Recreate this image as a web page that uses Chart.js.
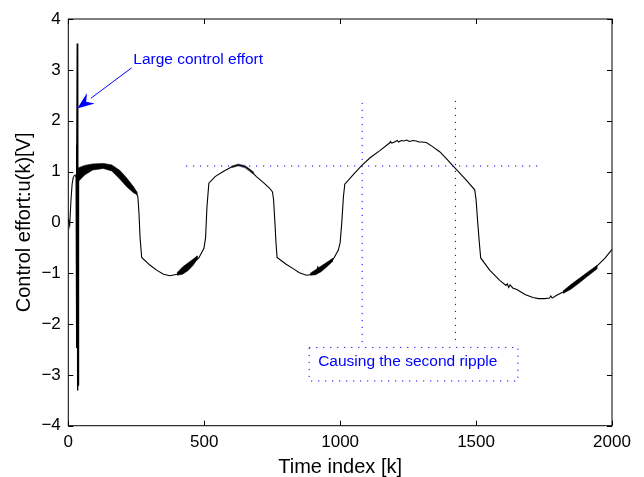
<!DOCTYPE html>
<html><head><meta charset="utf-8">
<script src="https://cdn.jsdelivr.net/npm/chart.js@4.4.1/dist/chart.umd.min.js"></script>
<style>html,body{margin:0;padding:0;background:#fff}canvas{display:block}</style>
</head><body>
<canvas id="c" width="644" height="477"></canvas>
<script>
// ---- axis ticks ----
const xTicks = [0, 500, 1000, 1500, 2000];
const yTicks = [-4, -3, -2, -1, 0, 1, 2, 3, 4];

// ---- main control-effort trace u(k) ----
const kMain = [0,5,10,14,18,22,26,
  38,60,90,129,160,190,215,240,251,256,260,264,270,
  300,325,350,374,400,430,460,480,499,505,510,517,
  540,570,600,625,650,670,692,720,741,751,755,760,764,768,
  800,827,850,876,900,913,918,925,950,975,993,1000,1006,1012,1017,
  1050,1078,1110,1146,1177,1182,1185,1190,1200,1210,1215,1225,1235,1245,1255,1268,1280,1290,1300,1317,
  1340,1366,1390,1415,1440,1464,1495,1500,1506,1512,1517,
  1550,1587,1610,1615,1620,1625,1635,1650,1680,1709,1730,1752,1770,1775,1780,1795,
  1820,1850,1880,1918,1950,1975,2000];
const uMain = [0.08,-0.06,0.45,0.75,0.88,0.92,0.93,
  0.93,1.03,1.09,1.11,1.07,0.93,0.79,0.64,0.57,0.50,0.18,-0.30,-0.69,
  -0.84,-0.94,-1.02,-1.05,-1.02,-0.93,-0.80,-0.70,-0.51,-0.30,0.30,0.77,
  0.90,1.00,1.09,1.13,1.10,1.02,0.90,0.77,0.67,0.60,0.45,0.00,-0.40,-0.69,
  -0.82,-0.91,-0.99,-1.04,-1.02,-0.98,-0.88,-0.95,-0.85,-0.72,-0.55,-0.40,0.00,0.50,0.75,
  0.95,1.11,1.27,1.41,1.54,1.56,1.59,1.56,1.58,1.61,1.58,1.61,1.60,1.62,1.59,1.61,1.60,1.58,1.58,1.57,
  1.49,1.39,1.26,1.11,0.97,0.83,0.64,0.45,0.00,-0.40,-0.70,
  -0.94,-1.14,-1.24,-1.21,-1.28,-1.23,-1.29,-1.32,-1.42,-1.48,-1.50,-1.50,-1.49,-1.45,-1.49,-1.44,
  -1.37,-1.27,-1.15,-1.00,-0.83,-0.70,-0.53];

// ---- initial large control effort (spike) ----
const kSpike = [26,29,30,31,32,33,34,35,36,37,38];
const uSpike = [0.92,0.90,1.52,-2.47,0.90,3.52,-3.31,3.30,-3.20,0.90,0.93];

// ---- ripple bands (upper envelope then lower envelope, closed) ----
const band1K = [36,60,90,129,160,190,215,240,252, 252,240,215,190,160,129,90,60,36];
const band1U = [1.07,1.12,1.15,1.16,1.13,1.02,0.87,0.70,0.60, 0.55,0.58,0.70,0.85,1.01,1.06,1.03,0.93,0.80];
const band2K = [400,420,440,460,474, 474,460,440,420,400];
const band2U = [-0.99,-0.88,-0.80,-0.72,-0.66, -0.72,-0.84,-0.95,-1.02,-1.04];
const band3K = [890,910,930,950,972, 972,950,930,910,890];
const band3U = [-1.00,-0.93,-0.86,-0.79,-0.71, -0.77,-0.88,-0.97,-1.03,-1.04];
const band4K = [1820,1850,1880,1910,1944, 1944,1910,1880,1850,1820];
const band4U = [-1.35,-1.22,-1.10,-0.98,-0.85, -0.92,-1.06,-1.19,-1.31,-1.40];
const band5K = [600,625,650,680, 680,650,625,600];
const band5U = [1.11,1.15,1.12,1.00, 0.95,1.07,1.11,1.07];

// ---- dotted guide lines ----
const hLineK = [433, 1727];   const hLineU = [1.108, 1.108];
const v1K = [1081, 1081];     const v1U = [2.35, -2.42];
const v2K = [1424, 1424];     const v2U = [2.39, -2.42];
const boxK = [886, 1654, 1654, 886, 886];
const boxU = [-2.46, -2.46, -3.12, -3.12, -2.46];

// ---- annotation texts ----
const labelEffort = 'Large control effort';
const labelRipple = 'Causing the second ripple';
const xTitle = 'Time index [k]';
const yTitle = 'Control effort:u(k)[V]';

const pts = (xs, ys) => xs.map((x, i) => ({x: x, y: ys[i]}));
const BLUE = '#0000ff';

const line = (xs, ys, extra) => Object.assign({
  data: pts(xs, ys), showLine: true, pointRadius: 0, borderColor: '#000',
  borderWidth: 1, fill: false, tension: 0
}, extra || {});

const bandStyle = {borderWidth: 0.6, borderColor: '#000', backgroundColor: '#000', fill: 'shape'};
const dotStyle = {borderColor: BLUE, borderWidth: 1, borderDash: [1.2, 5.8]};

const annot = {
  id: 'annot',
  afterDatasetsDraw(chart) {
    const {ctx, chartArea: a, scales: {x, y}} = chart;
    ctx.save();
    // axes box
    ctx.strokeStyle = '#000'; ctx.lineWidth = 1;
    ctx.strokeRect(a.left, a.top, a.right - a.left, a.bottom - a.top);
    // inward ticks, all four sides
    const tl = 5;
    ctx.beginPath();
    x.ticks.forEach(t => {
      const p = Math.round(x.getPixelForValue(t.value)) + 0.5;
      ctx.moveTo(p, a.bottom); ctx.lineTo(p, a.bottom - tl);
      ctx.moveTo(p, a.top); ctx.lineTo(p, a.top + tl);
    });
    y.ticks.forEach(t => {
      const p = Math.round(y.getPixelForValue(t.value)) + 0.5;
      ctx.moveTo(a.left, p); ctx.lineTo(a.left + tl, p);
      ctx.moveTo(a.right, p); ctx.lineTo(a.right - tl, p);
    });
    ctx.stroke();

    // arrow
    const tx = x.getPixelForValue(233), ty = y.getPixelForValue(3.04);
    const hx = x.getPixelForValue(33), hy = y.getPixelForValue(2.24);
    const ang = Math.atan2(hy - ty, hx - tx);
    const L = 17, W = 6.5;
    const bx = hx - L * Math.cos(ang), by = hy - L * Math.sin(ang);
    ctx.strokeStyle = BLUE; ctx.fillStyle = BLUE; ctx.lineWidth = 1;
    ctx.beginPath(); ctx.moveTo(tx, ty); ctx.lineTo(bx, by); ctx.stroke();
    const nx = -Math.sin(ang), ny = Math.cos(ang);
    const cx = hx - (L * 0.65) * Math.cos(ang), cy = hy - (L * 0.65) * Math.sin(ang);
    ctx.beginPath();
    ctx.moveTo(hx, hy);
    ctx.lineTo(bx + nx * W, by + ny * W);
    ctx.lineTo(cx, cy);
    ctx.lineTo(bx - nx * W, by - ny * W);
    ctx.closePath(); ctx.fill();

    // texts
    ctx.font = '15.5px "Liberation Sans", Arial, sans-serif';
    ctx.textAlign = 'left'; ctx.textBaseline = 'alphabetic';
    ctx.fillText(labelEffort, x.getPixelForValue(239), y.getPixelForValue(3.116));
    ctx.fillText(labelRipple, x.getPixelForValue(919), y.getPixelForValue(-2.823));
    ctx.restore();
  }
};

const minus = v => String(v).replace('-', '\u2212');

new Chart(document.getElementById('c'), {
  type: 'scatter',
  data: {datasets: [
    line(hLineK, hLineU, dotStyle),
    line(v1K, v1U, dotStyle),
    line(v2K, v2U, dotStyle),
    line(boxK, boxU, dotStyle),
    line(band1K, band1U, bandStyle),
    line(band2K, band2U, bandStyle),
    line(band3K, band3U, bandStyle),
    line(band4K, band4U, bandStyle),
    line(band5K, band5U, {borderWidth: 0.3, borderColor: '#000', backgroundColor: 'rgba(0,0,0,0.6)', fill: 'shape'}),
    line(kMain, uMain, {borderWidth: 1.1}),
    line(kSpike, uSpike, {borderWidth: 1.4})
  ]},
  options: {
    responsive: false, animation: false, events: [],
    layout: {padding: {left: 0, right: 32, top: 19, bottom: 0}},
    plugins: {legend: {display: false}, tooltip: {enabled: false}},
    scales: {
      x: {
        type: 'linear', min: 0, max: 2000,
        afterBuildTicks: s => { s.ticks = xTicks.map(v => ({value: v})); },
        afterFit: s => { s.height = 51.3; },
        grid: {display: false, drawTicks: false}, border: {display: false},
        ticks: {color: '#000', padding: 6, maxRotation: 0, autoSkip: false,
          font: {family: '"Liberation Sans", Arial, sans-serif', size: 17},
          callback: v => minus(v)},
        title: {display: true, text: xTitle, color: '#000', padding: {top: 0, bottom: 0},
          font: {family: '"Liberation Sans", Arial, sans-serif', size: 20, lineHeight: 1}}
      },
      y: {
        type: 'linear', min: -4, max: 4,
        afterBuildTicks: s => { s.ticks = yTicks.map(v => ({value: v})); },
        afterFit: s => { s.width = 68.3; },
        grid: {display: false, drawTicks: false}, border: {display: false},
        ticks: {color: '#000', padding: 7.5, autoSkip: false,
          font: {family: '"Liberation Sans", Arial, sans-serif', size: 17},
          callback: v => minus(v)},
        title: {display: true, text: yTitle, color: '#000', padding: {top: 14, bottom: 0},
          font: {family: '"Liberation Sans", Arial, sans-serif', size: 20, lineHeight: 1}}
      }
    }
  },
  plugins: [annot]
});
</script>
</body></html>
